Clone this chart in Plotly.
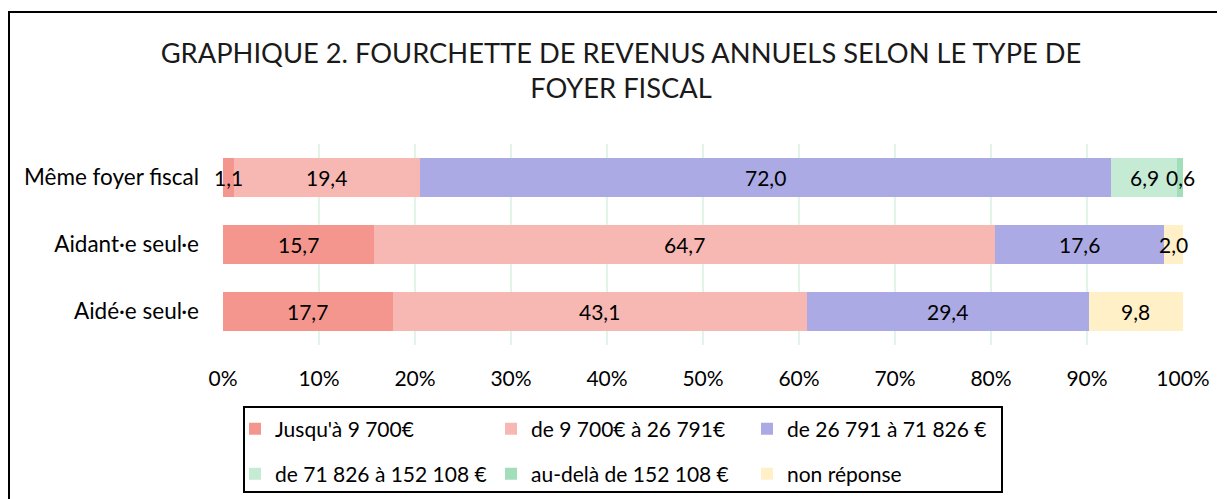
import plotly.graph_objects as go

categories = ["Même foyer fiscal", "Aidant·e seul·e", "Aidé·e seul·e"]
series_names = [
    "Jusqu'à 9 700€",
    "de 9 700€ à 26 791€",
    "de 26 791 à 71 826 €",
    "de 71 826 à 152 108 €",
    "au-delà de 152 108 €",
    "non réponse",
]
jusqua_9700 = [1.1, 15.7, 17.7]
de_9700_26791 = [19.4, 64.7, 43.1]
de_26791_71826 = [72.0, 17.6, 29.4]
de_71826_152108 = [6.9, 0.0, 0.0]
audela_152108 = [0.6, 0.0, 0.0]
non_reponse = [0.0, 2.0, 9.8]
series_values = [jusqua_9700, de_9700_26791, de_26791_71826,
                 de_71826_152108, audela_152108, non_reponse]
colors = ["#f4968e", "#f7b8b3", "#abaae4", "#c5ebd4", "#a3deba", "#fff0c8"]
tick_values = [0, 10, 20, 30, 40, 50, 60, 70, 80, 90, 100]
tick_labels = ["0%", "10%", "20%", "30%", "40%", "50%", "60%", "70%", "80%", "90%", "100%"]

FONT = "Lato"
OFF = 8  # page body margin
W, H = 1225, 499
L, T = 223 - OFF, 144 - OFF
PW, PH = 960, 201
R, B = W - L - PW, H - T - PH

def px_x(p):
    return (p - OFF - L) / PW

def px_y(p):
    return (T + PH - (p - OFF)) / PH

def cx(p):
    return (p - OFF) / W

def cy(p):
    return 1 - (p - OFF) / H

fig = go.Figure()
for i, (name, vals, col) in enumerate(zip(series_names, series_values, colors)):
    fig.add_trace(go.Bar(
        y=categories, x=vals, name=name, orientation="h",
        marker=dict(color=col, line=dict(width=0)),
        legend="legend" if i < 3 else "legend2",
        hoverinfo="skip",
    ))

# data labels centred on each segment
annotations = []
for ci, cat in enumerate(categories):
    start = 0.0
    for vals in series_values:
        v = vals[ci]
        if v > 0:
            annotations.append(dict(
                x=start + v / 2, y=cat, xref="x", yref="y",
                text=f"{v:.1f}".replace(".", ","), showarrow=False,
                font=dict(family=FONT, size=21, color="#000000"),
            ))
        start += v

shapes = [
    # outer frame
    dict(type="rect", xref="paper", yref="paper",
         x0=px_x(9), x1=px_x(1250), y0=px_y(12), y1=px_y(520),
         line=dict(color="#000000", width=2), fillcolor="rgba(0,0,0,0)"),
    # legend frame
    dict(type="rect", xref="paper", yref="paper",
         x0=px_x(244), x1=px_x(1002), y0=px_y(407), y1=px_y(492),
         line=dict(color="#000000", width=2), fillcolor="rgba(0,0,0,0)"),
]

legend_common = dict(
    orientation="h", xanchor="left", yanchor="middle",
    xref="container", yref="container",
    font=dict(family=FONT, size=21, color="#000000"),
    bgcolor="rgba(0,0,0,0)", borderwidth=0,
    entrywidth=211, entrywidthmode="pixels", traceorder="normal",
)

fig.update_layout(
    width=W, height=H,
    margin=dict(l=L, r=R, t=T, b=B, pad=0, autoexpand=False),
    paper_bgcolor="#ffffff", plot_bgcolor="#ffffff",
    barmode="stack", bargap=0.425,
    separators=", ",
    font=dict(family=FONT, size=21, color="#000000"),
    title=dict(
        text="GRAPHIQUE 2. FOURCHETTE DE REVENUS ANNUELS SELON LE TYPE DE<br>FOYER FISCAL",
        x=cx(621), xanchor="center", y=cy(63), yanchor="middle",
        xref="container", yref="container",
        font=dict(family=FONT, size=27.3, color="#1a1a1a"),
    ),
    xaxis=dict(
        range=[0, 100], tickvals=tick_values, ticktext=tick_labels,
        showgrid=True, gridcolor="#e2f3e8", gridwidth=2,
        zeroline=False, showline=False, ticks="",
        ticklabelstandoff=19, automargin=False,
        tickfont=dict(family=FONT, size=21, color="#000000"),
        fixedrange=True,
    ),
    yaxis=dict(
        categoryorder="array", categoryarray=categories,
        autorange="reversed", showgrid=False, zeroline=False,
        showline=False, ticks="", ticklabelstandoff=23, automargin=False,
        tickfont=dict(family=FONT, size=22.5, color="#000000"),
        fixedrange=True,
    ),
    legend=dict(x=cx(235), y=cy(429), **legend_common),
    legend2=dict(x=cx(235), y=cy(474), **legend_common),
    annotations=annotations,
    shapes=shapes,
    showlegend=True,
)

fig.write_html("out.html")
